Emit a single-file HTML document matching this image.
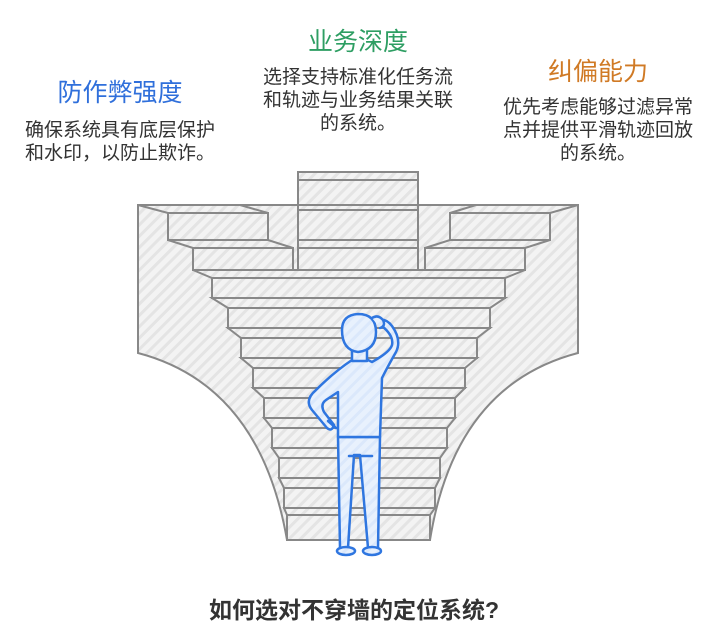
<!DOCTYPE html>
<html><head><meta charset="utf-8"><style>
html,body{margin:0;padding:0;background:#fff;}
body{width:708px;height:641px;position:relative;overflow:hidden;font-family:"Liberation Sans","Noto Sans CJK SC",sans-serif;}
.t{position:absolute;text-align:center;white-space:nowrap;}
.h{font-size:25px;}
.b{font-size:19px;line-height:23px;color:#333;}
</style></head><body>
<svg width="708" height="641" style="position:absolute;left:0;top:0">
<defs>
<pattern id="hp" width="8" height="8" patternUnits="userSpaceOnUse" patternTransform="rotate(45)">
<rect width="8" height="8" fill="#f3f3f3"/><rect width="3" height="8" fill="#e4e4e4"/>
</pattern>
<pattern id="bp" width="8" height="8" patternUnits="userSpaceOnUse" patternTransform="rotate(45)">
<rect width="8" height="8" fill="#e8f1fd"/><rect width="3" height="8" fill="#dbe8fb"/>
</pattern>
</defs>
<g stroke="#888" stroke-width="2" fill="url(#hp)">
<path d="M138,205 L138,353 Q260,385 287,540 L430,540 Q455,385 578,353 L578,205 Z"/>
<rect x="298" y="172" width="120" height="98"/>
<line x1="298" y1="180" x2="418" y2="180"/>
<line x1="298" y1="205" x2="418" y2="205"/>
<line x1="298" y1="210" x2="418" y2="210"/>
<line x1="298" y1="240" x2="418" y2="240"/>
<line x1="298" y1="248" x2="418" y2="248"/>
<path d="M138,205 L240,205 L268,213 L168,213 Z"/>
<rect x="168" y="213" width="100" height="27"/>
<path d="M168,240 L268,240 L293,248 L193,248 Z"/>
<rect x="193" y="248" width="100" height="22"/>
<path d="M578,205 L476,205 L450,213 L550,213 Z"/>
<rect x="450" y="213" width="100" height="27"/>
<path d="M550,240 L450,240 L425,248 L525,248 Z"/>
<rect x="425" y="248" width="100" height="22"/>
<path d="M193,270 L525,270 L505,278 L212,278 Z"/><rect x="212" y="278" width="293" height="20"/>
<path d="M212,298 L505,298 L490,308 L228,308 Z"/><rect x="228" y="308" width="262" height="20"/>
<path d="M228,328 L490,328 L477,338 L241,338 Z"/><rect x="241" y="338" width="236" height="20"/>
<path d="M241,358 L477,358 L465,368 L253,368 Z"/><rect x="253" y="368" width="212" height="20"/>
<path d="M253,388 L465,388 L455,398 L264,398 Z"/><rect x="264" y="398" width="191" height="20"/>
<path d="M264,418 L455,418 L447,428 L272,428 Z"/><rect x="272" y="428" width="175" height="20"/>
<path d="M272,448 L447,448 L440,458 L279,458 Z"/><rect x="279" y="458" width="161" height="20"/>
<path d="M279,478 L440,478 L435,488 L284,488 Z"/><rect x="284" y="488" width="151" height="20"/>
<path d="M284,508 L435,508 L430,515 L287,515 Z"/><rect x="287" y="515" width="143" height="25"/>
</g>
<g stroke="#2f76e0" stroke-width="2.5" fill="url(#bp)" stroke-linejoin="round" stroke-linecap="round">
<path d="M338,437 L380,437 L378,548 L368,548 L360,455 L354,455 L348,548 L340,548 Z"/>
<ellipse cx="346" cy="551" rx="9" ry="4"/>
<ellipse cx="372" cy="551" rx="9" ry="4"/>
<line x1="349" y1="456" x2="372" y2="456"/>
<path d="M352,360 L368,360 L372,362 Q390,352 392,345 Q394,336 382,326 L378,320 Q386,318 392,326 Q402,340 396,352 Q388,366 382,378 L380,437 L338,437 L338,392 L326,400 Q320,404 324,412 L334,425 Q332,432 327,428 L312,410 Q304,400 316,390 Q334,372 352,360 Z"/>
<path d="M328,421 L336,428"/>
<rect x="352" y="348" width="15" height="13"/>
<path d="M342,330 Q342,315 358,314 Q376,314 376,332 Q376,350 358,352 Q342,350 342,330 Z"/>
<path d="M372,318 Q378,314 383,320 Q386,326 380,328"/>
</g>
</svg>
<div class="t h" style="left:37px;top:73px;width:166px;color:#2f6fdb;">防作弊强度</div>
<div class="t b" style="left:14px;top:119px;width:212px;">确保系统具有底层保护<br>和水印，以防止欺诈。</div>
<div class="t h" style="left:275px;top:22px;width:166px;color:#2e9e63;">业务深度</div>
<div class="t b" style="left:250px;top:66px;width:216px;">选择支持标准化任务流<br>和轨迹与业务结果关联<br>的系统。</div>
<div class="t h" style="left:515px;top:52px;width:166px;color:#d07a25;">纠偏能力</div>
<div class="t b" style="left:495px;top:96px;width:206px;">优先考虑能够过滤异常<br>点并提供平滑轨迹回放<br>的系统。</div>
<div class="t" style="left:0;top:591px;width:708px;font-size:23px;font-weight:bold;color:#333;">如何选对不穿墙的定位系统?</div>
</body></html>
